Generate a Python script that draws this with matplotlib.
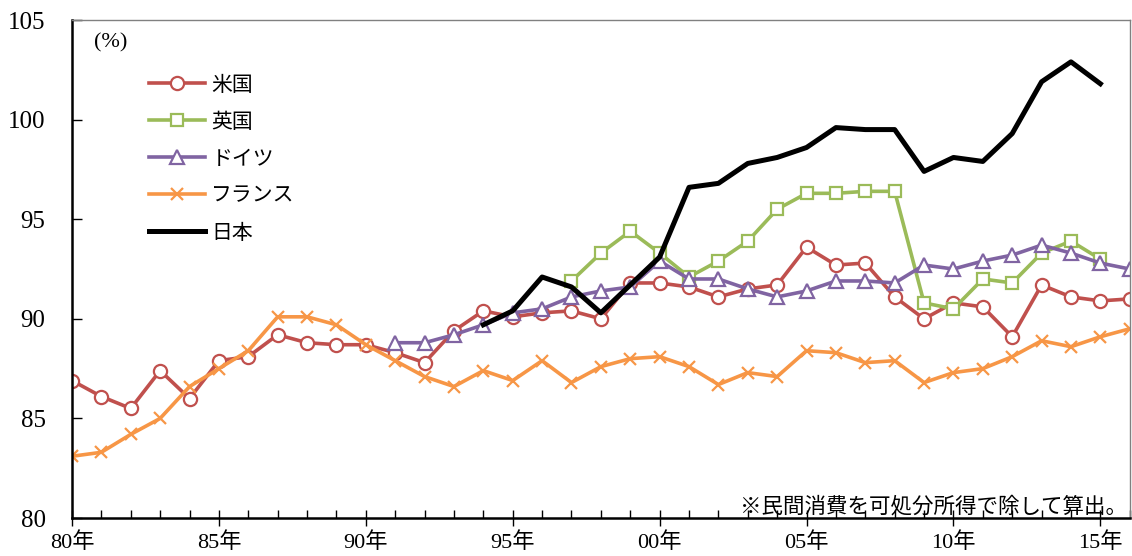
import numpy as np
import matplotlib.pyplot as plt
from matplotlib.ticker import MultipleLocator

plt.rcParams['font.family'] = ['Liberation Serif', 'Noto Sans CJK JP', 'DejaVu Sans']

# 民間消費 / 可処分所得 (%)
years_us = list(range(1980, 2017))
us = [86.9, 86.1, 85.5, 87.4, 86.0, 87.9, 88.1, 89.2, 88.8, 88.7,
      88.7, 88.3, 87.8, 89.4, 90.4, 90.1, 90.3, 90.4, 90.0, 91.8,
      91.8, 91.6, 91.1, 91.5, 91.7, 93.6, 92.7, 92.8, 91.1, 90.0,
      90.8, 90.6, 89.1, 91.7, 91.1, 90.9, 91.0]

years_uk = list(range(1997, 2016))
uk = [91.9, 93.3, 94.4, 93.3, 92.1, 92.9, 93.9, 95.5, 96.3, 96.3,
      96.4, 96.4, 90.8, 90.5, 92.0, 91.8, 93.3, 93.9, 93.0]

years_de = list(range(1991, 2017))
de = [88.8, 88.8, 89.2, 89.7, 90.3, 90.5, 91.1, 91.4, 91.6, 92.9,
      92.0, 92.0, 91.5, 91.1, 91.4, 91.9, 91.9, 91.8, 92.7, 92.5,
      92.9, 93.2, 93.7, 93.3, 92.8, 92.5]

years_fr = list(range(1980, 2017))
fr = [83.1, 83.3, 84.2, 85.0, 86.6, 87.5, 88.4, 90.1, 90.1, 89.7,
      88.7, 87.9, 87.1, 86.6, 87.4, 86.9, 87.9, 86.8, 87.6, 88.0,
      88.1, 87.6, 86.7, 87.3, 87.1, 88.4, 88.3, 87.8, 87.9, 86.8,
      87.3, 87.5, 88.1, 88.9, 88.6, 89.1, 89.5]

years_jp = list(range(1994, 2016))
jp = [89.7, 90.4, 92.1, 91.6, 90.3, 91.7, 93.1, 96.6, 96.8, 97.8,
      98.1, 98.6, 99.6, 99.5, 99.5, 97.4, 98.1, 97.9, 99.3, 101.9,
      102.9, 101.8]

xtick_years = [1980, 1985, 1990, 1995, 2000, 2005, 2010, 2015]
xtick_labels = ['80年', '85年', '90年', '95年', '00年', '05年', '10年', '15年']

fig = plt.figure(figsize=(11.32, 5.56), dpi=100)
ax = fig.add_axes([0.0636, 0.0683, 0.9344, 0.8957])

mk = dict(markersize=9.5, markerfacecolor='white', markeredgewidth=1.6)
ax.plot(years_us, us, color='#C0504D', lw=2.6, marker='o', label='米国', **mk)
ax.plot(years_uk, uk, color='#9BBB59', lw=2.6, marker='s', label='英国',
        markersize=9, markerfacecolor='white', markeredgewidth=1.6)
ax.plot(years_de, de, color='#8064A2', lw=2.6, marker='^', label='ドイツ', **mk)
ax.plot(years_fr, fr, color='#F79646', lw=2.6, marker='x', label='フランス',
        markersize=9, markeredgewidth=1.6)
ax.plot(years_jp, jp, color='black', lw=3.6, label='日本')

ax.set_xlim(1980, 2016)
ax.set_ylim(80, 105)
ax.set_xticks(xtick_years)
ax.set_xticklabels(xtick_labels)
ax.xaxis.set_minor_locator(MultipleLocator(1))
ax.yaxis.set_major_locator(MultipleLocator(5))

ax.tick_params(axis='x', which='major', direction='inout', length=12, width=1,
               labelsize=16, pad=4)
ax.tick_params(axis='x', which='minor', direction='in', length=6, width=1)
ax.tick_params(axis='y', direction='in', length=7, width=1, labelsize=18, pad=19)

for side in ['left', 'bottom']:
    ax.spines[side].set_linewidth(1.8)
    ax.spines[side].set_color('black')
for side in ['top', 'right']:
    ax.spines[side].set_linewidth(1)
    ax.spines[side].set_color('#808080')

ax.text(0.021, 0.955, '(%)', transform=ax.transAxes, fontsize=16,
        va='center', ha='left')

ax.legend(loc='upper left', bbox_to_anchor=(0.055, 0.93), frameon=False,
          handlelength=2.7, handletextpad=0.3, labelspacing=0.72,
          prop={'family': ['Noto Sans CJK JP'], 'size': 15})

ax.text(0.9975, 0.0, '※民間消費を可処分所得で除して算出。', transform=ax.transAxes,
        fontsize=15.5, ha='right', va='bottom', family=['Noto Sans CJK JP'])

fig.savefig('out.png', dpi=100)
